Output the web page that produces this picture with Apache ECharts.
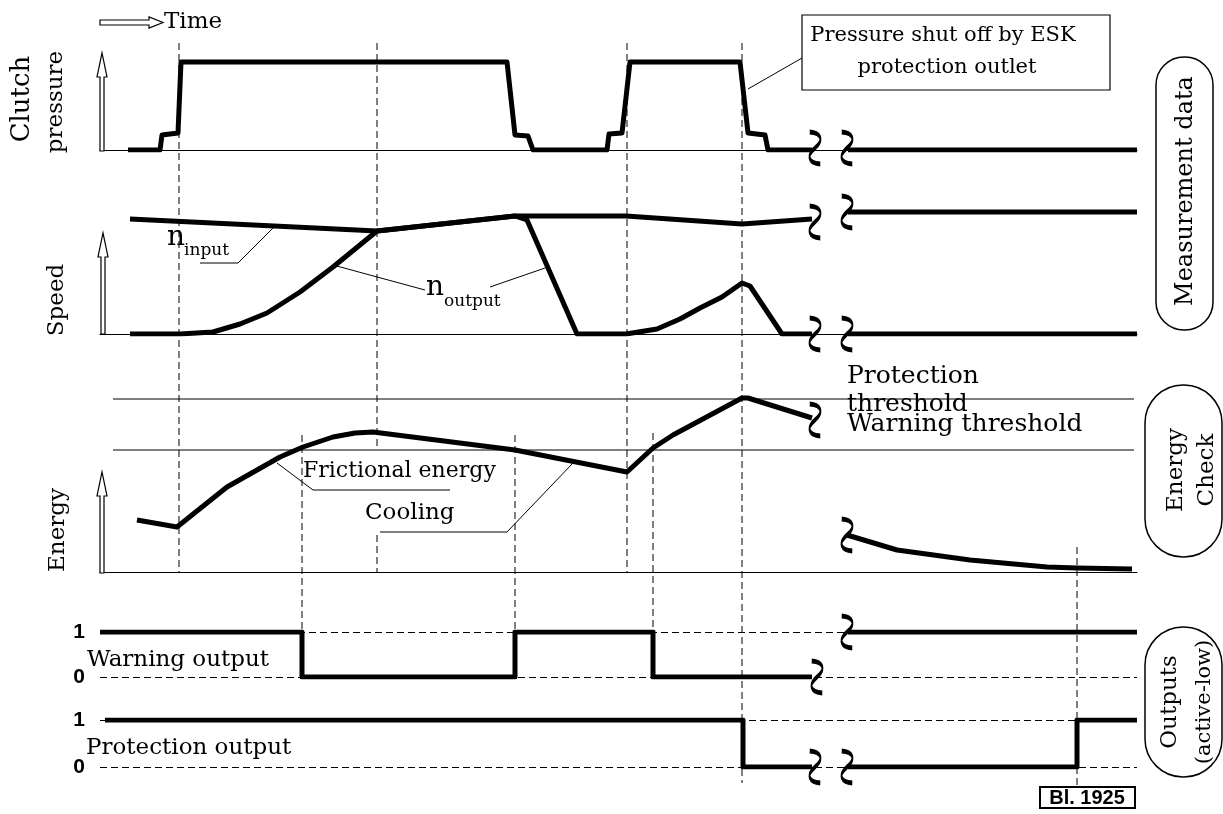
<!DOCTYPE html>
<html>
<head>
<meta charset="utf-8">
<script src="https://cdn.jsdelivr.net/npm/echarts@6/dist/echarts.min.js"></script>
<style>
html, body { margin: 0; padding: 0; background: #fff; }
#main { width: 1223px; height: 814px; }
</style>
</head>
<body>
<div id="main"></div>
<script>
// time runs 100..1137 on every strip; null marks the axis break
var clutchT = [128, 160, 162, 178, 181, 184, 507, 515, 528, 533, 607, 609, 622, 630, 740, 748, 765, 768, 812, 830, 848, 1137];
var clutchP = [0, 0, 15, 17, 88, 88, 88, 15, 14, 0, 0, 16, 17, 88, 88, 17, 15, 0, 0, null, 0, 0];

var inputT = [130, 377, 515, 626, 742, 812, 830, 848, 1137];
var inputN = [115, 103, 118, 118, 110, 115, null, 122, 122];
var outputT = [130, 180, 213, 240, 267, 300, 333, 377, 515, 527, 577, 626, 657, 680, 700, 722, 742, 750, 782, 812, 830, 848, 1137];
var outputN = [0, 0, 2, 10, 21, 42, 67, 103, 118, 114, 0, 0, 5, 15, 26, 37, 51, 48, 0, 0, null, 0, 0];

var energyT = [137, 177, 227, 280, 303, 333, 355, 373, 515, 627, 653, 673, 742, 748, 812, 830, 847, 897, 970, 1047, 1077, 1132];
var energyE = [52, 45, 85, 115, 125, 135, 139, 140, 122, 100, 124, 137, 174, 174, 154, null, 37, 22, 12, 5, 4, 3];
var protectionThreshold = 173;
var warningThreshold = 122;
var thresholdT = [113, 1134];

var warnT = [100, 302, 302, 515, 515, 653, 653, 812, 830, 848, 1137];
var warnV = [1, 1, 0, 0, 1, 1, 0, 0, null, 1, 1];
var protT = [105, 743, 743, 812, 830, 848, 1077, 1077, 1137];
var protV = [1, 1, 0, 0, null, 0, 0, 1, 1];

// break marks (time, value) per strip
var breakClutch = [[815, 2], [847, 2]];
var breakSpeed = [[815, 112], [847, 122], [815, 0], [847, 0]];
var breakEnergy = [[815, 152], [847, 37]];
var breakWarn = [[817, 0], [847, 1]];
var breakProt = [[815, 0], [847, 0]];

// dashed event markers: time, from, to (page rows)
var markerT = [179, 377, 377, 627, 742, 302, 515, 653, 1077];
var markerFrom = [43, 43, 535, 43, 43, 435, 435, 433, 547];
var markerTo = [572, 450, 572, 572, 783, 632, 630, 630, 787];

// leader lines for the labels
var leaders = [
  [[200, 263], [238, 263], [273, 228]],
  [[333, 265], [425, 290]],
  [[490, 287], [545, 268]],
  [[277, 463], [313, 490], [450, 490]],
  [[380, 532], [507, 532], [573, 463]],
  [[748, 89], [802, 58]]
];

function toData(t, v) {
  return t.map(function (x, i) { return v[i] === null ? [x, '-'] : [x, v[i]]; });
}

function thick(idx, t, v) {
  return {
    type: 'line', xAxisIndex: idx, yAxisIndex: idx, data: toData(t, v),
    symbol: 'none', silent: true, z: 5,
    lineStyle: { color: '#000', width: 5, join: 'round' }
  };
}

var breakPath = 'path://M2,0 C9,1 10,8 5,15 C0,22 1,29 8,30';
function breaks(idx, pts) {
  return {
    type: 'scatter', xAxisIndex: idx, yAxisIndex: idx, data: pts,
    symbol: breakPath, symbolSize: [11, 32], silent: true, z: 6,
    itemStyle: { color: 'rgba(0,0,0,0)', borderColor: '#000', borderWidth: 3, opacity: 1 }
  };
}

var markerData = [];
for (var i = 0; i < markerT.length; i++) {
  markerData.push([markerT[i], markerFrom[i]], [markerT[i], markerTo[i]], [markerT[i], '-']);
}
var leaderData = [];
leaders.forEach(function (l) {
  l.forEach(function (p) { leaderData.push(p); });
  leaderData.push([l[l.length - 1][0], '-']);
});

var grids = [
  { top: 40, height: 110 },
  { top: 200, height: 134 },
  { top: 380, height: 192 },
  { top: 632, height: 45 },
  { top: 720, height: 47 },
  { top: 0, height: 814 }
];
var yMax = [110, 134, 192, 1, 1, 814];

var serif = 'DejaVu Serif';

function txt(s, x, y, size, align, rot, extra) {
  var el = {
    type: 'text', x: x, y: y, rotation: rot || 0, z: 100,
    style: {
      text: s, fontSize: size, fontFamily: serif, fill: '#000',
      align: align || 'left', verticalAlign: 'middle',
      textAlign: align || 'left', textVerticalAlign: 'middle'
    }
  };
  if (extra) for (var k in extra) el.style[k] = extra[k];
  return el;
}
function vArrow(x, yb, yt) {
  return {
    type: 'polygon', z: 100,
    shape: { points: [[x - 2, yb], [x - 2, yt + 24], [x - 5, yt + 24], [x, yt], [x + 5, yt + 24], [x + 2, yt + 24], [x + 2, yb]] },
    style: { fill: '#fff', stroke: '#000', lineWidth: 1.2 }
  };
}
function pill(x, y, w, h, r) {
  return { type: 'rect', z: 90, shape: { x: x, y: y, width: w, height: h, r: r },
    style: { fill: '#fff', stroke: '#000', lineWidth: 1.5 } };
}
var rot = Math.PI / 2;

var option = {
  animation: false,
  backgroundColor: '#fff',
  grid: grids.map(function (g) {
    return { left: 100, right: 86, top: g.top, height: g.height, outerBoundsMode: 'none' };
  }),
  xAxis: grids.map(function (g, i) {
    return {
      type: 'value', gridIndex: i, min: 100, max: 1137,
      show: i < 3,
      axisLine: { show: i < 3, lineStyle: { color: '#000', width: 1.2 } },
      axisTick: { show: false }, axisLabel: { show: false }, splitLine: { show: false }
    };
  }),
  yAxis: grids.map(function (g, i) {
    var logic = (i === 3 || i === 4);
    return {
      type: 'value', gridIndex: i, min: 0, max: yMax[i], inverse: i === 5,
      interval: logic ? 1 : undefined,
      show: logic,
      axisLine: { show: false }, axisTick: { show: false },
      axisLabel: {
        show: logic, margin: 15, color: '#000',
        fontFamily: 'Liberation Sans', fontWeight: 'bold', fontSize: 21
      },
      splitLine: { show: logic, lineStyle: { color: '#000', width: 1, type: [7, 4] } }
    };
  }),
  series: [
    {
      type: 'line', xAxisIndex: 5, yAxisIndex: 5, data: markerData, symbol: 'none', silent: true, z: 1,
      lineStyle: { color: '#000', width: 1, type: [7, 4] }
    },
    {
      type: 'line', xAxisIndex: 5, yAxisIndex: 5, data: leaderData, symbol: 'none', silent: true, z: 1,
      lineStyle: { color: '#000', width: 1 }
    },
    {
      type: 'line', xAxisIndex: 2, yAxisIndex: 2, symbol: 'none', silent: true, z: 2,
      data: toData(thresholdT, [protectionThreshold, protectionThreshold]),
      lineStyle: { color: '#000', width: 1 }
    },
    {
      type: 'line', xAxisIndex: 2, yAxisIndex: 2, symbol: 'none', silent: true, z: 2,
      data: toData(thresholdT, [warningThreshold, warningThreshold]),
      lineStyle: { color: '#000', width: 1 }
    },
    thick(0, clutchT, clutchP),
    thick(1, inputT, inputN),
    thick(1, outputT, outputN),
    thick(2, energyT, energyE),
    thick(3, warnT, warnV),
    thick(4, protT, protV),
    breaks(0, breakClutch),
    breaks(1, breakSpeed),
    breaks(2, breakEnergy),
    breaks(3, breakWarn),
    breaks(4, breakProt)
  ],
  graphic: [
    // time arrow
    { type: 'polygon', z: 100,
      shape: { points: [[100, 20], [149, 20], [149, 17], [163, 22.5], [149, 28], [149, 25], [100, 25]] },
      style: { fill: '#fff', stroke: '#000', lineWidth: 1.2 } },
    txt('Time', 164, 22, 23),
    vArrow(102, 151, 53),
    vArrow(103, 334, 233),
    vArrow(102, 573, 472),
    txt('Clutch', 22, 99, 26, 'center', rot),
    txt('pressure', 56, 102, 23, 'center', rot),
    txt('Speed', 57, 300, 23, 'center', rot),
    txt('Energy', 58, 530, 23, 'center', rot),
    txt('n', 167, 238, 28),
    txt('input', 184, 251, 17),
    txt('n', 426, 288, 28),
    txt('output', 444, 302, 17),
    txt('Frictional energy', 303, 471, 22),
    txt('Cooling', 365, 513, 23),
    { type: 'rect', z: 90, shape: { x: 802, y: 15, width: 308, height: 75 },
      style: { fill: '#fff', stroke: '#000', lineWidth: 1.2 } },
    txt('Pressure shut off by ESK', 943, 36, 21, 'center'),
    txt('protection outlet', 947, 68, 21, 'center'),
    txt('Protection', 847, 376, 25),
    txt('threshold', 847, 404, 25),
    txt('Warning threshold', 847, 424, 25),
    txt('Warning output', 87, 660, 23),
    txt('Protection output', 86, 748, 23),
    pill(1156, 57, 57, 273, 28),
    txt('Measurement data', 1186, 191, 24, 'center', rot),
    pill(1145, 385, 77, 172, 38),
    txt('Energy', 1176, 470, 23, 'center', rot),
    txt('Check', 1207, 470, 23, 'center', rot),
    pill(1145, 627, 77, 150, 38),
    txt('Outputs', 1170, 702, 23, 'center', rot),
    txt('(active-low)', 1205, 702, 21, 'center', rot),
    { type: 'rect', z: 90, shape: { x: 1040, y: 787, width: 95, height: 21 },
      style: { fill: '#fff', stroke: '#000', lineWidth: 2 } },
    txt('Bl. 1925', 1087, 798, 20, 'center', 0, { fontFamily: 'Liberation Sans', fontWeight: 'bold' })
  ]
};

var myChart = echarts.init(document.getElementById('main'));
myChart.setOption(option);
</script>
</body>
</html>
